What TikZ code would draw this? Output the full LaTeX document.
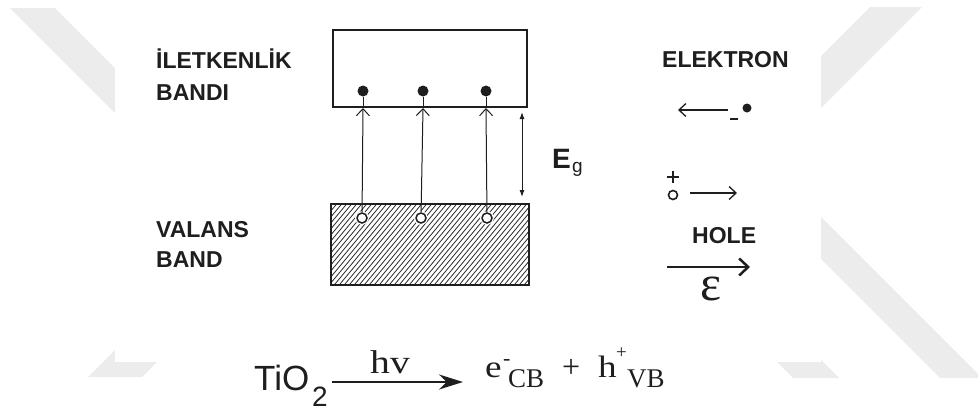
\documentclass[tikz,border=0pt]{standalone}
\usepackage{fontspec}
\setmainfont{Liberation Serif}
\newfontfamily\arial{Liberation Sans}
\newfontfamily\eqwide[FakeStretch=1.2]{Liberation Serif}
\usetikzlibrary{arrows.meta}
\definecolor{wm}{RGB}{236,236,236}
\definecolor{ink}{RGB}{30,30,30}
\tikzset{
  lbl/.style={font=\arial\bfseries\fontsize{23}{26}\selectfont, text=ink, inner sep=0pt, anchor=base west},
  eqt/.style={inner sep=0pt, anchor=base west, text=ink},
  edot/.style={circle, fill=ink, inner sep=0pt, minimum size=11pt},
  hole/.style={circle, draw=ink, fill=white, line width=1.5pt, inner sep=0pt, minimum size=10pt,
    preaction={draw=white, line width=4pt}},
  bandbox/.style={draw=ink, line width=2pt, inner sep=0pt},
  trans/.style={draw=ink, line width=1pt},
  barb/.style={-{Straight Barb[length=7pt,width=13pt]}},
}
\begin{document}
\begin{tikzpicture}[x=1pt,y=-1pt]
\useasboundingbox (0,0) rectangle (978,410);
% watermark
\fill[wm] (10,8) -- (55,8) -- (300,253) -- (255,253) -- cycle;
\fill[wm] (88,377) -- (142,377) -- (200,319) -- (146,319) -- cycle;
\fill[wm] (870,7) -- (922,7) -- (760,169) -- (708,169) -- cycle;
\fill[wm] (790,186) -- (982,378) -- (940,378) -- (790,228) -- cycle;
\fill[wm] (740,325) -- (786,325) -- (839,378) -- (793,378) -- cycle;
\fill[white] (115,-5) rectangle (821,362);

% bands
\node[bandbox, minimum width=194pt, minimum height=77pt] (cb) at (430,68.5) {};
\begin{scope}
  \clip (331,204) rectangle (529,285);
  \foreach \x in {220,225,...,540} \draw[ink, line width=0.75pt] (\x,290) -- (\x+80,194);
\end{scope}
\node[bandbox, minimum width=198pt, minimum height=81pt] (vb) at (430,244.5) {};

% electrons and holes
\node[edot] (d1) at (363,91) {};
\node[edot] (d2) at (423,91) {};
\node[edot] (d3) at (486,91) {};
\node[hole] (h1) at (362,218) {};
\node[hole] (h2) at (421,218) {};
\node[hole] (h3) at (487,218) {};
\foreach \i in {1,2,3} {
  \coordinate (c\i) at (d\i |- cb.south);
  \draw[trans, barb] (h\i) -- (c\i);
  \draw[trans] (c\i) -- (d\i);
}
% band gap
\coordinate (g1) at (522,112);
\coordinate (g2) at (522,197);
\draw[ink, line width=1pt, {Latex[length=7pt,width=5pt]}-{Latex[length=7pt,width=5pt]}] (g1) -- (g2);
\node[eqt, font=\arial\bfseries\fontsize{28}{30}\selectfont] (E) at (552,168) {E};
\node[eqt, font=\arial\fontsize{19}{20}\selectfont] (g) at (572,172) {g};

% left labels
\node[lbl] (l1) at (156,68) {İLETKENLİK};
\node[lbl] (l2) at (156,100) {BANDI};
\node[lbl] (l3) at (156,237) {VALANS};
\node[lbl] (l4) at (156,267) {BAND};

% right side
\node[lbl] (el) at (662,67) {ELEKTRON};
\node[edot, minimum size=9pt] (ed) at (747,108) {};
\coordinate (et) at (728,110);
\coordinate (eh) at (678,110);
\draw[ink, line width=1.3pt, barb] (et) -- (eh);
\draw[ink, line width=2.5pt] (730,119) -- (738,119);

\draw[ink, line width=1.8pt] (673,171) -- (673,183) (667,177) -- (679,177);
\node[circle, draw=ink, line width=1.6pt, inner sep=0pt, minimum size=9pt] (hc) at (673,195) {};
\coordinate (ht) at (690,193);
\coordinate (hh) at (737,193);
\draw[ink, line width=1.3pt, barb] (ht) -- (hh);
\node[lbl] (ho) at (692,243) {HOLE};

\coordinate (ft) at (667,267);
\coordinate (fh) at (750,267);
\draw[ink, line width=1.8pt, -{Straight Barb[length=9pt,width=17pt,line width=2.5pt]}] (ft) -- (fh);
\node[inner sep=0pt, text=ink, font=\fontsize{50}{50}\selectfont] (eps) at (711,289) {ε};

% equation
\node[eqt, font=\arial\fontsize{35}{36}\selectfont] (tio) at (254,390) {TiO};
\node[eqt, font=\arial\fontsize{28}{30}\selectfont] (two) at (312,406) {2};
\coordinate (a1) at (332,382);
\coordinate (a2) at (463,382);
\draw[ink, line width=1.8pt, -{Stealth[length=24pt,width=15pt]}] (a1) -- (a2);
\node[eqt, font=\eqwide\fontsize{33}{35}\selectfont] (hv) at (370,373) {hv};
\node[eqt, font=\eqwide\fontsize{31}{33}\selectfont] (e) at (485,377) {e};
\node[eqt, font=\fontsize{22}{22}\selectfont] (em) at (503,365) {-};
\node[eqt, font=\fontsize{27}{29}\selectfont] (cbt) at (508,387) {CB};
\node[eqt, font=\fontsize{32}{33}\selectfont] (pl) at (562,377) {+};
\node[eqt, font=\eqwide\fontsize{31}{33}\selectfont] (h) at (598,377) {h};
\node[eqt, font=\fontsize{19}{20}\selectfont] (hp) at (616,358) {+};
\node[eqt, font=\fontsize{27}{29}\selectfont] (vbt) at (627,387) {VB};
\end{tikzpicture}
\end{document}
